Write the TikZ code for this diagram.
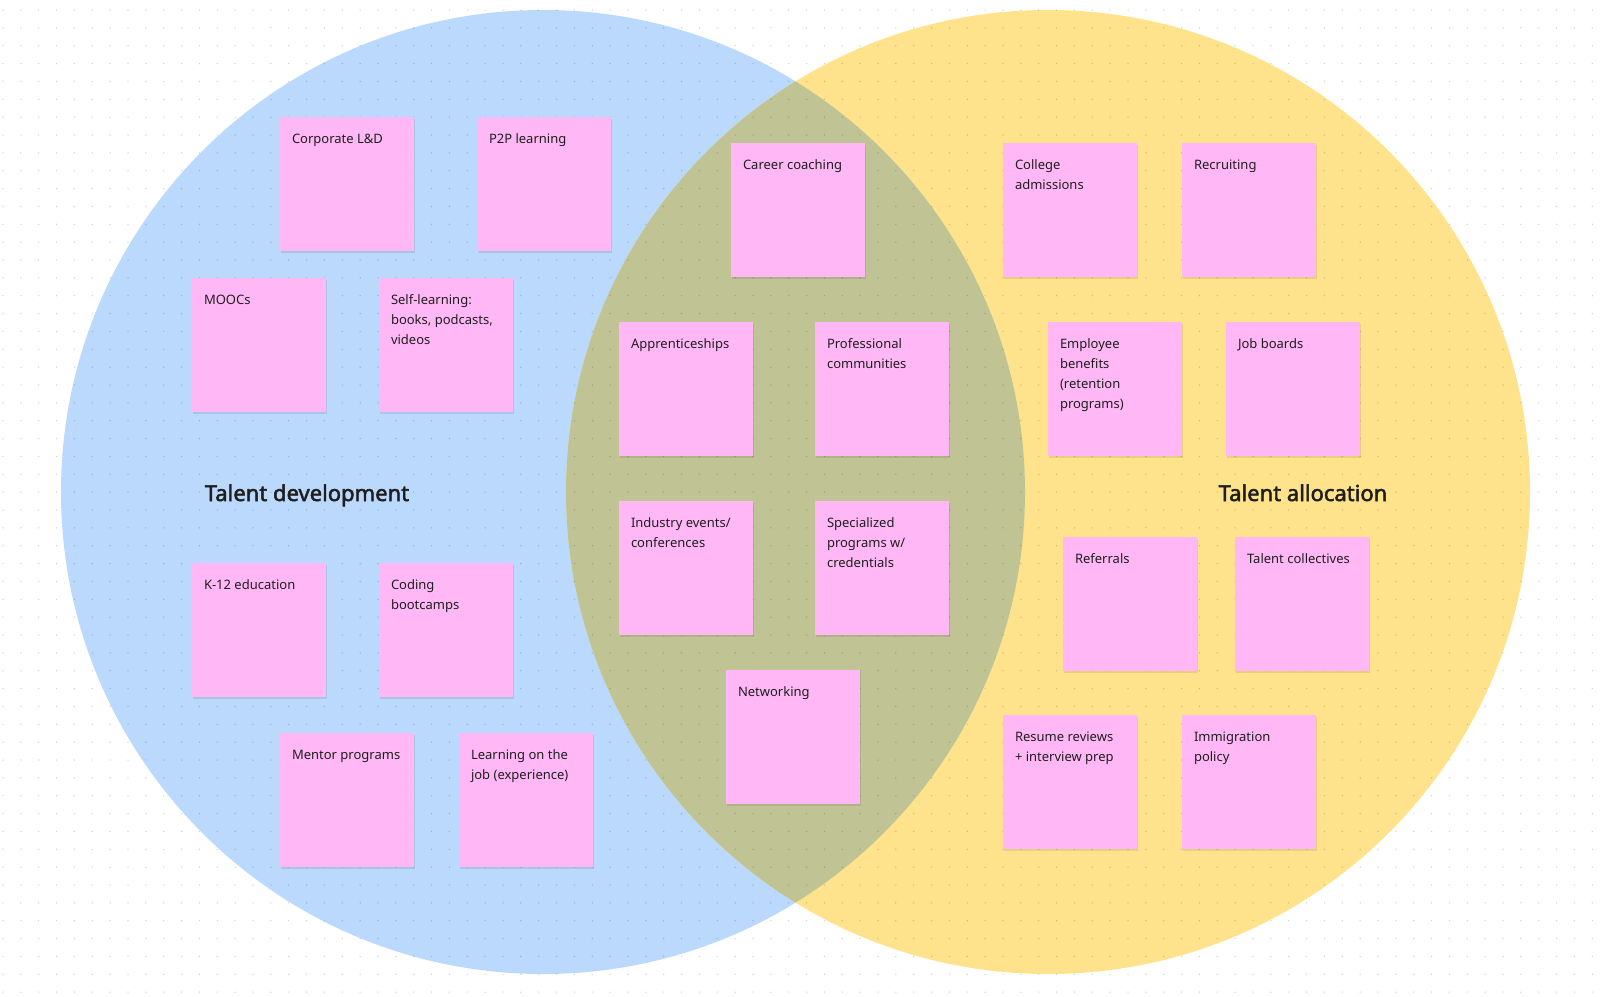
\documentclass[tikz,border=0pt]{standalone}
\usepackage{fontspec}
\usetikzlibrary{shadows}
\newfontfamily\notefamily{Noto Sans}
\newfontfamily\titlefamily{Noto Sans}[FakeBold=2.2]
\definecolor{tdblue}{HTML}{BAD9FC}
\definecolor{tayellow}{HTML}{FFE38C}
\definecolor{overlapolive}{HTML}{C0C494}
\definecolor{stickypink}{HTML}{FFB8F5}
\definecolor{inkdark}{HTML}{1E1E1E}
\newcommand{\notetext}[1]{\hspace*{12pt}\parbox[t][110pt][t]{122pt}{\raggedright\strut #1}}

\begin{document}
\begin{tikzpicture}[x=1pt,y=-1pt,
  sticky/.style={fill=stickypink, anchor=north west, inner xsep=0pt, inner ysep=12pt, outer sep=0pt,
    text=inkdark, font=\notefamily\fontsize{13}{20}\selectfont,
    drop shadow={shadow xshift=0.5pt, shadow yshift=-1.5pt, opacity=0.09, fill=black}},
  title/.style={anchor=base, inner sep=0pt, text=inkdark,
    font=\titlefamily\fontsize{22}{26}\selectfont},
  dotrow/.style={line width=1.5pt, line cap=round, black, opacity=0.18,
    dash pattern=on 0pt off 17.857pt}]
\useasboundingbox (0,0) rectangle (1600,996);
\fill[white] (0,0) rectangle (1600,996);
% the two sets
\fill[tdblue] (543,492) circle (482);
\fill[tayellow] (1048,492) circle (482);
\begin{scope}
\clip (543,492) circle (482);
\fill[overlapolive] (1048,492) circle (482);
\end{scope}
% dot grid
\foreach \r in {0,...,55} \draw[dotrow] (3,10+\r*17.857) -- (1600,10+\r*17.857);
% set titles
\node[title] (devtitle) at (307,501) {Talent development};
\node[title] (alloctitle) at (1303,501) {Talent allocation};
% talent development
\node[sticky] (corpld) at (280,117) {\notetext{Corporate L\&D}};
\node[sticky] (ptp) at (477,117) {\notetext{P2P learning}};
\node[sticky] (moocs) at (192,278) {\notetext{MOOCs}};
\node[sticky] (selflearn) at (379,278) {\notetext{Self-learning:\\ books, podcasts,\\ videos}};
\node[sticky] (kdouze) at (192,563) {\notetext{K-12 education}};
\node[sticky] (bootcamp) at (379,563) {\notetext{Coding\\ bootcamps}};
\node[sticky] (mentor) at (280,733) {\notetext{Mentor programs}};
\node[sticky] (onjob) at (459,733) {\notetext{Learning on the\\ job (experience)}};
% both
\node[sticky] (coaching) at (731,143) {\notetext{Career coaching}};
\node[sticky] (apprentice) at (619,322) {\notetext{Apprenticeships}};
\node[sticky] (profcomm) at (815,322) {\notetext{Professional\\ communities}};
\node[sticky] (events) at (619,501) {\notetext{Industry events/\\ conferences}};
\node[sticky] (special) at (815,501) {\notetext{Specialized\\ programs w/\\ credentials}};
\node[sticky] (network) at (726,670) {\notetext{Networking}};
% talent allocation
\node[sticky] (college) at (1003,143) {\notetext{College\\ admissions}};
\node[sticky] (recruit) at (1182,143) {\notetext{Recruiting}};
\node[sticky] (benefits) at (1048,322) {\notetext{Employee\\ benefits\\ (retention\\ programs)}};
\node[sticky] (jobboards) at (1226,322) {\notetext{Job boards}};
\node[sticky] (referrals) at (1063,537) {\notetext{Referrals}};
\node[sticky] (collectives) at (1235,537) {\notetext{Talent collectives}};
\node[sticky] (resume) at (1003,715) {\notetext{Resume reviews\\ + interview prep}};
\node[sticky] (immigration) at (1182,715) {\notetext{Immigration\\ policy}};
\end{tikzpicture}
\end{document}
